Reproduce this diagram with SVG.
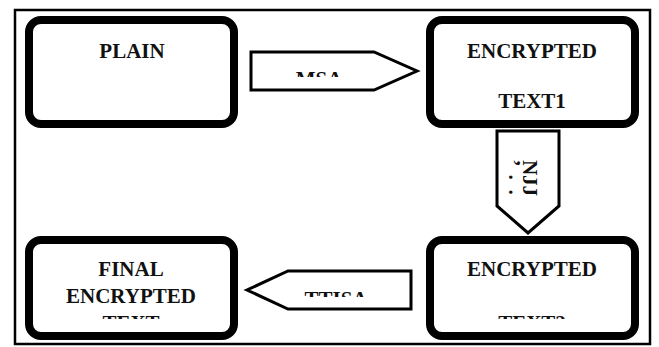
<svg xmlns="http://www.w3.org/2000/svg" width="659" height="347" viewBox="0 0 659 347">
<style>
.box{fill:#fff;stroke:#000;stroke-width:8}
.arr{fill:#fff;stroke:#000;stroke-width:3;stroke-linejoin:miter}
.t{font-family:'Liberation Serif','Times New Roman','DejaVu Serif',serif;font-weight:700;font-size:21px;fill:#111;text-anchor:middle}
</style>
<defs>
<clipPath id="cMSA"><rect x="252" y="53" width="160" height="24"/></clipPath>
<clipPath id="cNJJ"><rect x="508" y="132" width="50" height="80"/></clipPath>
<clipPath id="cTT"><rect x="290" y="272" width="120" height="25"/></clipPath>
<clipPath id="cB3"><rect x="30" y="240" width="204" height="79"/></clipPath>
<clipPath id="cB4"><rect x="431" y="240" width="204" height="79"/></clipPath>
</defs>
<rect x="15" y="10" width="635" height="334" fill="#fff" stroke="#000" stroke-width="2.5"/>
<g id="connectors">
<g id="msa">
<polygon class="arr" points="251,52 374,52 417,71 374,90 251,90"/>
<text class="t" x="319" y="86" clip-path="url(#cMSA)">MSA</text>
</g>
<g id="njj">
<polygon class="arr" points="497,131 559,131 559,206 528,233 497,206"/>
<g clip-path="url(#cNJJ)">
<text class="t" transform="translate(523,178) rotate(90)">NJJ</text>
<text class="t" font-size="14" transform="translate(506,163) rotate(90)">’</text>
<text class="t" font-size="14" transform="translate(509,177) rotate(90)">.</text>
<text class="t" font-size="14" transform="translate(509,192) rotate(90)">.</text>
</g>
</g>
<g id="ttisa">
<polygon class="arr" points="411,271 288,271 247,290 288,309 411,309"/>
<text class="t" x="336" y="306" clip-path="url(#cTT)">TTISA</text>
</g>
</g>
<g id="plain">
<rect class="box" x="29" y="20" width="205" height="104" rx="12"/>
<text class="t" x="132" y="58">PLAIN</text>
</g>
<g id="enc1">
<rect class="box" x="430" y="20" width="205" height="104" rx="12"/>
<text class="t" x="532" y="58">ENCRYPTED</text>
<text class="t" x="532" y="108">TEXT1</text>
</g>
<g id="final">
<rect class="box" x="29" y="240" width="205" height="96" rx="12"/>
<g clip-path="url(#cB3)">
<text class="t" x="131" y="276">FINAL</text>
<text class="t" x="131" y="303">ENCRYPTED</text>
<text class="t" x="131" y="330">TEXT</text>
</g>
</g>
<g id="enc2">
<rect class="box" x="430" y="240" width="205" height="96" rx="12"/>
<g clip-path="url(#cB4)">
<text class="t" x="532" y="276">ENCRYPTED</text>
<text class="t" x="532" y="330">TEXT2</text>
</g>
</g>
</svg>
